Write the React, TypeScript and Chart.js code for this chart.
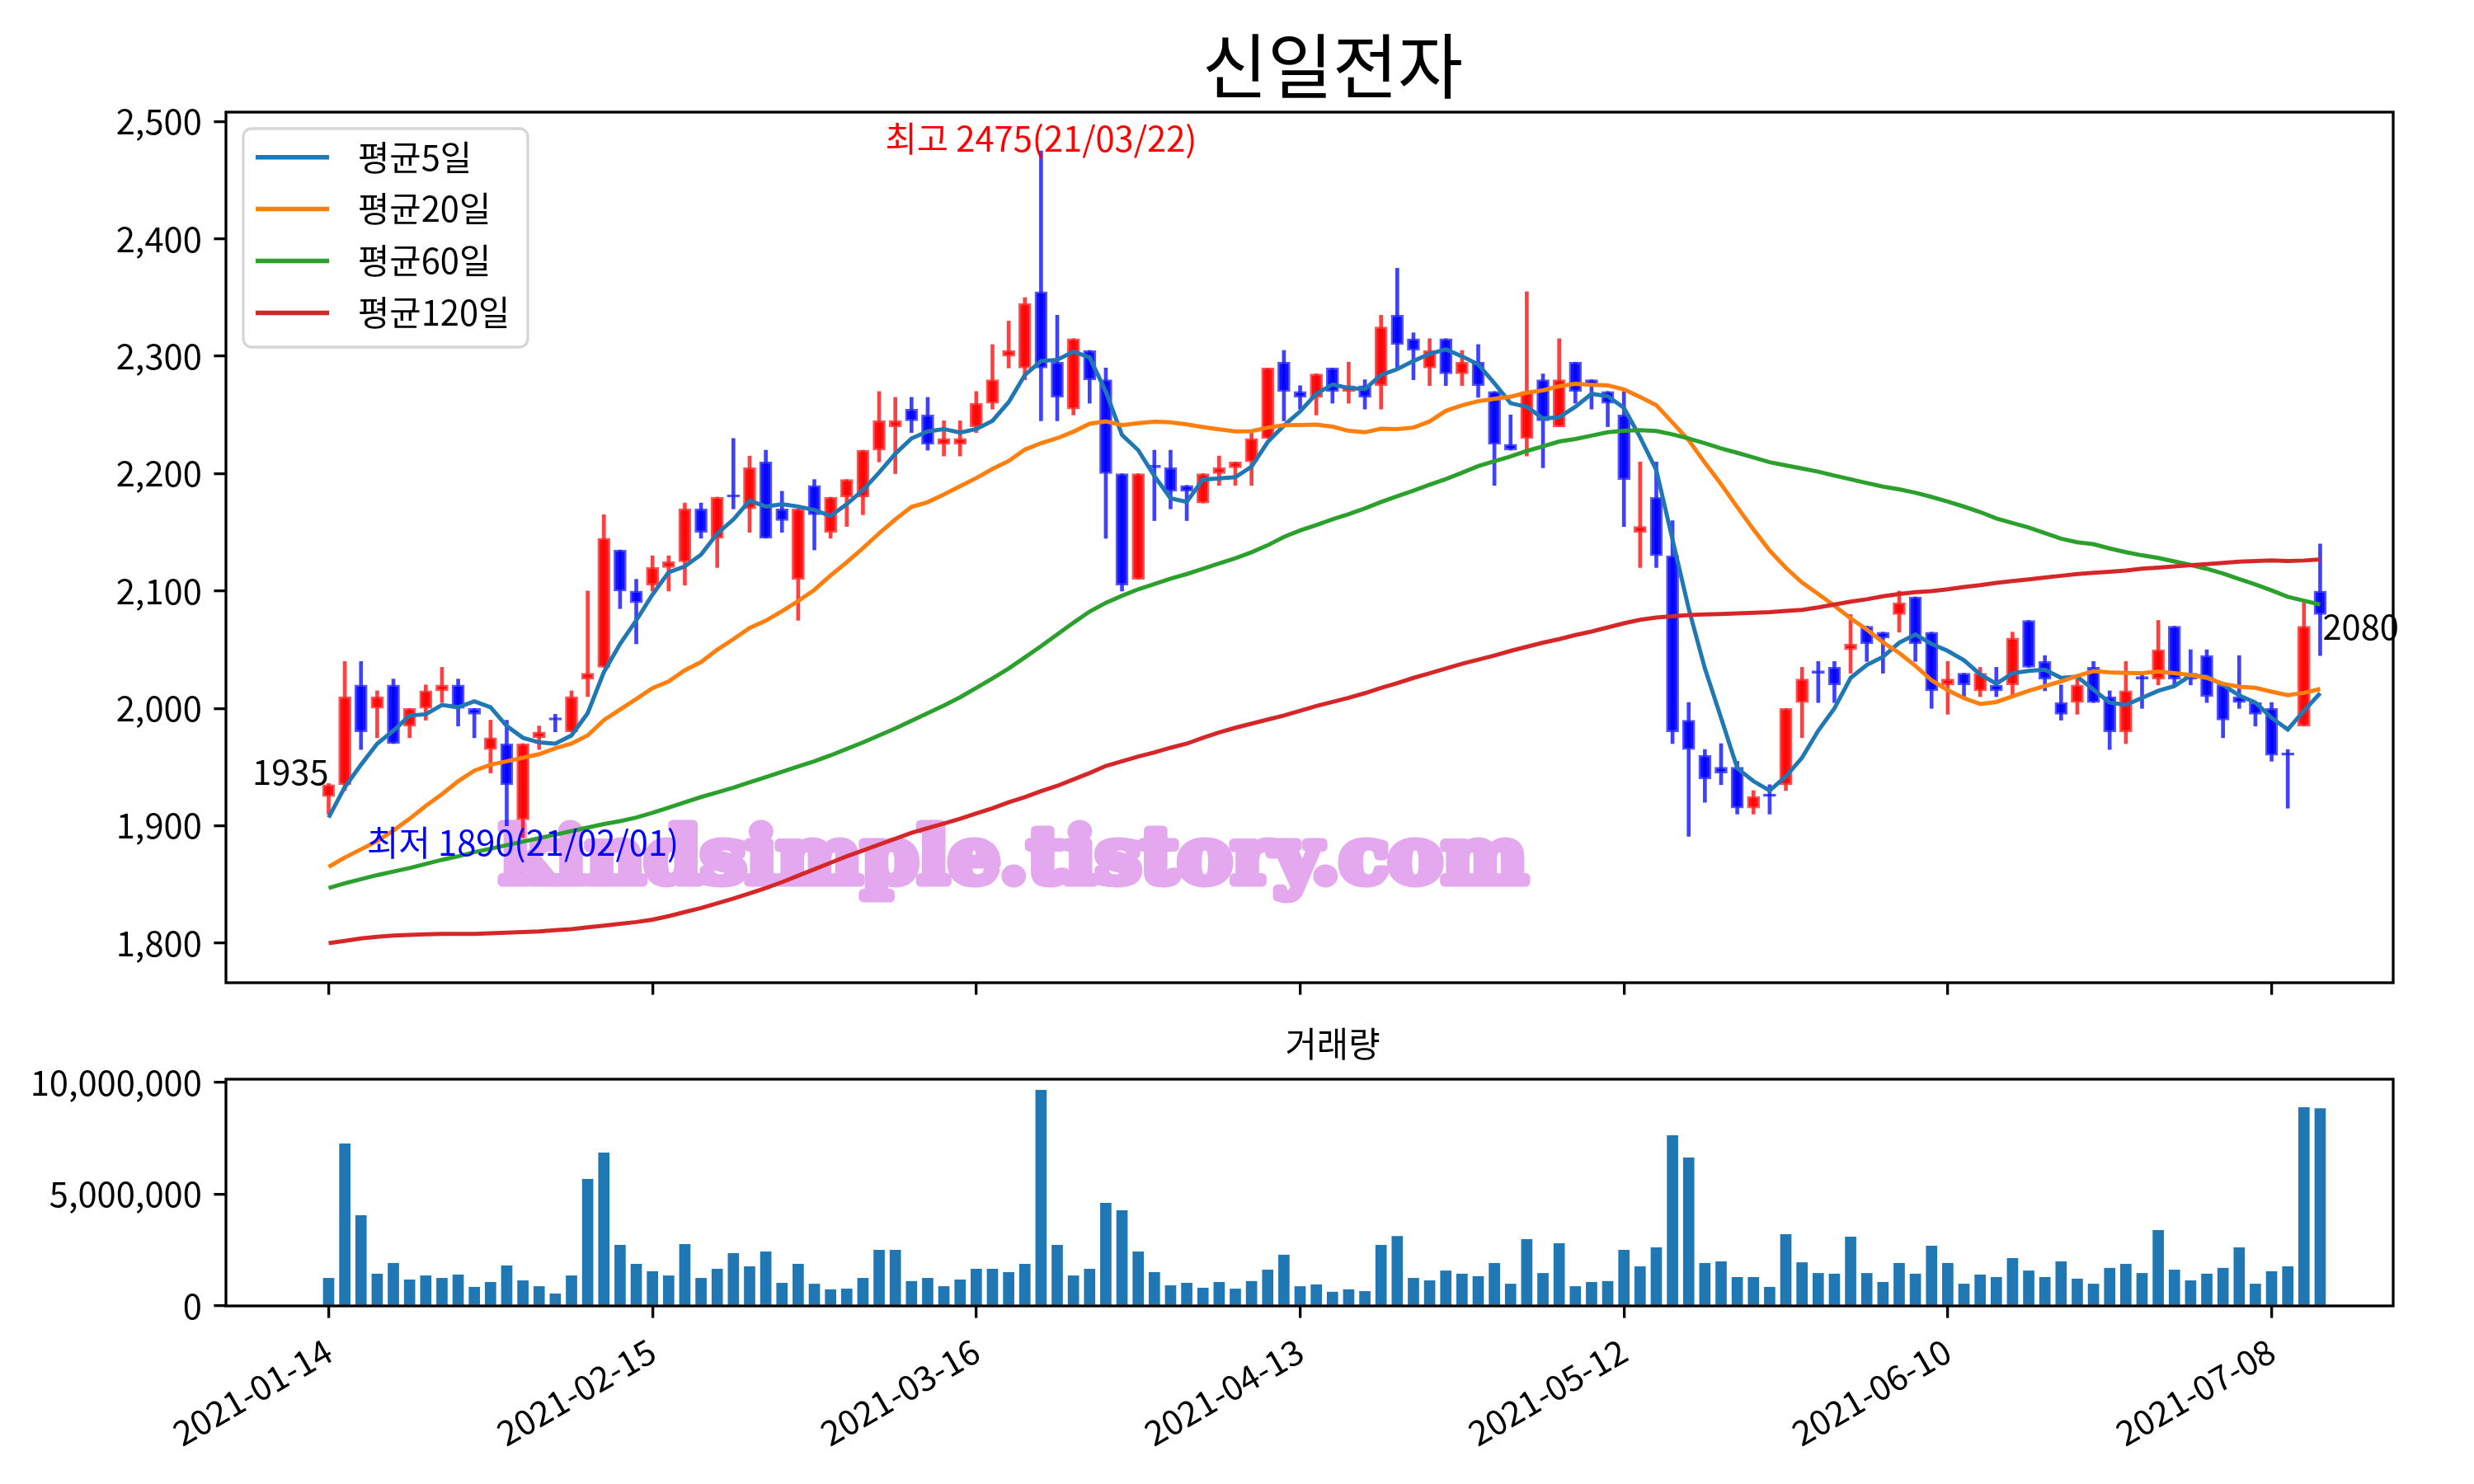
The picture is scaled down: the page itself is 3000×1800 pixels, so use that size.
import React, { useEffect, useRef } from 'react';
import { Chart, registerables } from 'chart.js';
Chart.register(...registerables);

// ---------------- data ----------------
const TITLE = '신일전자';
const VOLUME_TITLE = '거래량';
const WATERMARK = 'kindsimple.tistory.com';
const highLabel = '최고 2475(21/03/22)';
const lowLabel = '최저 1890(21/02/01)';
const legendLabels = ['평균5일', '평균20일', '평균60일', '평균120일'];

const xTickIndex = [0, 20, 40, 60, 80, 100, 120];
const xTickLabels = ['2021-01-14', '2021-02-15', '2021-03-16', '2021-04-13', '2021-05-12', '2021-06-10', '2021-07-08'];
const priceTicks = [1800, 1900, 2000, 2100, 2200, 2300, 2400, 2500];
const volumeTicks = [0, 5000000, 10000000];

const opens = [1925,1935,2020,2000,2020,1985,2000,2015,2020,2000,
 1965,1970,1905,1975,1990,1980,2025,2035,2135,2100,
 2105,2120,2125,2170,2145,2180,2170,2210,2170,2110,
 2190,2150,2180,2180,2220,2240,2255,2250,2225,2225,
 2240,2260,2300,2290,2355,2295,2255,2305,2280,2200,
 2110,2205,2205,2190,2175,2200,2205,2210,2230,2295,
 2270,2265,2290,2270,2275,2275,2335,2315,2290,2315,
 2285,2295,2270,2225,2230,2280,2240,2295,2280,2270,
 2250,2150,2180,2130,1990,1960,1950,1950,1915,1925,
 1935,2005,2030,2035,2050,2070,2065,2080,2095,2065,
 2020,2030,2015,2020,2020,2075,2040,2005,2005,2035,
 2010,1980,2025,2025,2070,2030,2045,2020,2010,2005,
 2000,1960,1985,2100];
const highs = [1936,2040,2040,2015,2025,2000,2020,2035,2025,2000,
 1990,1990,1970,1985,1995,2015,2100,2165,2135,2110,
 2130,2130,2175,2175,2180,2230,2215,2220,2185,2170,
 2195,2180,2195,2220,2270,2265,2265,2265,2245,2245,
 2270,2310,2330,2350,2475,2335,2315,2305,2290,2200,
 2200,2220,2220,2190,2200,2215,2210,2235,2290,2305,
 2275,2285,2290,2295,2280,2335,2375,2320,2315,2315,
 2305,2310,2270,2250,2355,2285,2315,2295,2280,2270,
 2270,2210,2210,2160,2005,1965,1970,1955,1930,1935,
 2000,2035,2040,2040,2080,2070,2065,2100,2095,2065,
 2040,2030,2035,2035,2065,2075,2045,2020,2025,2040,
 2015,2040,2030,2075,2070,2050,2050,2020,2045,2005,
 2005,1965,2090,2140];
const lows = [1910,1930,1965,1975,1970,1975,1990,2005,1985,1975,
 1945,1900,1890,1965,1980,1980,2010,2035,2085,2055,
 2100,2100,2105,2145,2120,2170,2150,2145,2150,2075,
 2135,2145,2155,2165,2210,2200,2235,2220,2215,2215,
 2235,2255,2290,2280,2245,2245,2250,2260,2145,2100,
 2110,2160,2170,2160,2175,2190,2190,2190,2230,2245,
 2255,2250,2260,2260,2255,2255,2290,2280,2275,2275,
 2275,2265,2190,2220,2215,2205,2240,2260,2255,2240,
 2155,2120,2120,1970,1891,1920,1935,1910,1910,1910,
 1930,1975,2005,2005,2030,2040,2030,2065,2040,2000,
 1995,2010,2010,2010,2010,2035,2015,1990,1995,2005,
 1965,1970,2000,2020,2020,2020,2005,1975,2000,1985,
 1955,1915,1985,2045];
const closes = [1935,2010,1980,2010,1970,2000,2015,2020,2000,1995,
 1975,1935,1970,1980,1990,2010,2030,2145,2100,2090,
 2120,2125,2170,2150,2180,2180,2205,2145,2160,2170,
 2165,2180,2195,2220,2245,2245,2245,2225,2230,2230,
 2260,2280,2305,2345,2290,2265,2315,2280,2200,2105,
 2200,2205,2185,2185,2200,2205,2210,2230,2290,2270,
 2265,2285,2270,2275,2265,2325,2310,2305,2305,2285,
 2295,2275,2225,2220,2270,2245,2280,2270,2275,2260,
 2195,2155,2130,1980,1965,1940,1945,1915,1925,1925,
 2000,2025,2030,2020,2055,2055,2060,2090,2055,2015,
 2025,2020,2030,2015,2060,2035,2025,1995,2020,2005,
 1980,2015,2025,2050,2025,2025,2010,1990,2005,1995,
 1960,1960,2070,2080];
const volumes = [1240000,7260000,4050000,1430000,1910000,1170000,1350000,1240000,1390000,840000,
 1060000,1800000,1130000,870000,540000,1350000,5670000,6850000,2720000,1870000,
 1540000,1350000,2760000,1240000,1650000,2350000,1760000,2420000,1020000,1870000,
 980000,730000,760000,1240000,2500000,2500000,1100000,1240000,870000,1170000,
 1650000,1650000,1500000,1870000,9660000,2720000,1350000,1650000,4600000,4270000,
 2420000,1500000,910000,1020000,800000,1060000,760000,1100000,1610000,2280000,
 870000,950000,620000,730000,650000,2720000,3120000,1240000,1130000,1570000,
 1430000,1320000,1910000,980000,2980000,1460000,2790000,870000,1060000,1100000,
 2500000,1760000,2610000,7630000,6630000,1910000,1980000,1280000,1280000,840000,
 3200000,1940000,1460000,1430000,3090000,1460000,1060000,1910000,1430000,2680000,
 1910000,980000,1390000,1280000,2130000,1570000,1280000,1980000,1210000,980000,
 1690000,1870000,1460000,3380000,1610000,1130000,1430000,1690000,2610000,980000,
 1540000,1760000,8880000,8840000];

// moving-average values before enough in-window history exists
const ma5Head = [1907, 1933, 1952, 1970];
const ma20Head = [1865,1873,1880,1887,1896,1906,1917,1927,1938,1947,1952,1955,1958,1961,1966,1970,1977,1990,1999];
const ma60Head = [1847,1851,1854.5,1858,1861,1864,1867.5,1871,1874,1877.5,
 1880.5,1883.5,1886.5,1889.5,1892.5,1895.5,1898.5,1901.5,1904,1907,
 1911,1915.5,1920,1924.5,1928.5,1932.5,1937,1941.5,1946,1950.5,
 1955,1960,1965.5,1971,1977,1983,1989.5,1996,2002.5,2009.5,
 2017.5,2025.5,2034,2043.5,2053,2063,2073,2082.5,2090,2096,
 2101.5,2106,2110.5,2114.5,2119,2123.5,2128,2133,2139];
const ma120 = [1800,1802,1804,1805.5,1806.5,1807,1807.5,1808,1808,1808,
 1808.5,1809,1809.5,1810,1811,1812,1813.5,1815,1816.5,1818,
 1820,1823,1826.5,1830,1834,1838,1842.5,1847,1852,1857.5,
 1863,1868.5,1874,1879,1884,1889,1894,1898,1902,1906,
 1910.5,1915,1920,1924.5,1929.5,1934,1939.5,1945,1951,1955,
 1959,1962.5,1966.5,1970,1975,1979.5,1983.5,1987,1990.5,1994,
 1998,2002,2005.5,2009,2013,2017.5,2021.5,2026,2030,2034,
 2038,2041.5,2045,2049,2052.5,2056,2059,2062.5,2065.5,2069,
 2072.5,2075.5,2077.5,2078.5,2079.5,2080,2080.5,2081,2081.5,2082,
 2083,2084,2086,2088.5,2091,2093,2095.5,2097.5,2099,2100,
 2101.5,2103.5,2105,2107,2108.5,2110,2111.5,2113,2114.5,2115.5,
 2116.5,2117.5,2119,2120,2121,2122,2123,2124,2125,2125.5,
 2126,2125.5,2126,2127];

// ---------------- helpers / styles ----------------
const FONT = '"Noto Sans CJK KR", "Noto Sans", sans-serif';
const FS = 41.67;
const LW = 3.3;
const TICK = 14.6;
const MA_COLORS = ['#1f77b4', '#ff7f0e', '#2ca02c', '#d62728'];

function rollingMean(src: number[], n: number, head: number[]) {
  return src.map((_, i) => {
    if (i < head.length) return head[i];
    let s = 0;
    for (let k = i - n + 1; k <= i; k++) s += src[k];
    return s / n;
  });
}

const idx = closes.map((_, i) => i);
const ma5 = rollingMean(closes, 5, ma5Head);
const ma20 = rollingMean(closes, 20, ma20Head);
const ma60 = rollingMean(closes, 60, ma60Head);
const maSeries = [ma5, ma20, ma60, ma120];
const isUp = closes.map((c, i) => c > opens[i]);

const XMIN = -6.341;
const XMAX = 127.51;

function frame(chart: any) {
  const { ctx, chartArea: a } = chart;
  ctx.save();
  ctx.strokeStyle = '#000';
  ctx.lineWidth = LW;
  ctx.strokeRect(a.left, a.top, a.right - a.left, a.bottom - a.top);
  ctx.restore();
}

function xAxis(showLabels: boolean, height: number) {
  return {
    type: 'linear' as const,
    min: XMIN,
    max: XMAX,
    bounds: 'data' as const,
    offset: false,
    grid: { display: true, drawOnChartArea: false, drawTicks: true, tickLength: TICK, color: '#000', lineWidth: LW, offset: false },
    border: { display: false },
    ticks: {
      display: showLabels,
      autoSkip: false,
      minRotation: 30,
      maxRotation: 30,
      padding: TICK,
      color: '#000',
      font: { family: FONT, size: FS },
      callback: (v: any) => {
        const k = xTickIndex.indexOf(Number(v));
        return k >= 0 ? xTickLabels[k] : '';
      },
    },
    afterBuildTicks: (s: any) => { s.ticks = xTickIndex.map((v) => ({ value: v })); },
    afterFit: (s: any) => { s.height = height; },
  };
}

function yAxis(min: number, max: number, ticks: number[]) {
  return {
    type: 'linear' as const,
    min,
    max,
    bounds: 'data' as const,
    beginAtZero: false,
    grid: { display: true, drawOnChartArea: false, drawTicks: true, tickLength: TICK, color: '#000', lineWidth: LW },
    border: { display: false },
    ticks: {
      padding: TICK,
      color: '#000',
      font: { family: FONT, size: FS },
      callback: (v: any) => Number(v).toLocaleString('en-US'),
    },
    afterBuildTicks: (s: any) => { s.ticks = ticks.map((v) => ({ value: v })); },
    afterFit: (s: any) => { s.width = 274; },
  };
}

const pricePlugin = {
  id: 'priceDecor',
  beforeDatasetsDraw: (chart: any) => {
    const { ctx } = chart;
    ctx.save();
    ctx.font = `bold 92px "DejaVu Serif", serif`;
    const w = ctx.measureText(WATERMARK).width;
    const sx = 1246 / w;
    ctx.translate(1229, 1070);
    ctx.scale(sx, 1);
    ctx.textAlign = 'center';
    ctx.textBaseline = 'alphabetic';
    ctx.fillStyle = '#E4A8EE';
    ctx.strokeStyle = '#E4A8EE';
    ctx.lineWidth = 11;
    ctx.lineJoin = 'round';
    ctx.strokeText(WATERMARK, 0, 0);
    ctx.fillText(WATERMARK, 0, 0);
    ctx.restore();
  },
  afterDatasetsDraw: (chart: any) => {
    const { ctx, scales } = chart;
    const xs = scales.x, ys = scales.y;
    ctx.save();
    ctx.font = `${FS}px ${FONT}`;
    ctx.textBaseline = 'alphabetic';
    let iMax = 0, iMin = 0;
    highs.forEach((h, i) => { if (h > highs[iMax]) iMax = i; });
    lows.forEach((l, i) => { if (l < lows[iMin]) iMin = i; });
    ctx.textAlign = 'center';
    ctx.fillStyle = '#ff0000';
    ctx.fillText(highLabel, xs.getPixelForValue(iMax), ys.getPixelForValue(highs[iMax]) + 1);
    ctx.fillStyle = '#0000ff';
    ctx.fillText(lowLabel, xs.getPixelForValue(iMin), ys.getPixelForValue(lows[iMin]) + 22);
    ctx.fillStyle = '#000';
    ctx.textAlign = 'right';
    ctx.fillText(String(closes[0]), xs.getPixelForValue(0), ys.getPixelForValue(closes[0]));
    ctx.textAlign = 'left';
    const last = closes.length - 1;
    ctx.fillText(String(closes[last]), xs.getPixelForValue(last) + 3, ys.getPixelForValue(closes[last]) + 31);
    ctx.restore();
  },
  afterDraw: (chart: any) => {
    const { ctx } = chart;
    frame(chart);
    ctx.save();
    const bx = 295, by = 156, bw = 345, bh = 265, r = 10;
    ctx.beginPath();
    ctx.moveTo(bx + r, by);
    ctx.arcTo(bx + bw, by, bx + bw, by + bh, r);
    ctx.arcTo(bx + bw, by + bh, bx, by + bh, r);
    ctx.arcTo(bx, by + bh, bx, by, r);
    ctx.arcTo(bx, by, bx + bw, by, r);
    ctx.closePath();
    ctx.fillStyle = 'rgba(255,255,255,0.8)';
    ctx.fill();
    ctx.strokeStyle = '#d6d6d6';
    ctx.lineWidth = LW;
    ctx.stroke();
    ctx.font = `${FS}px ${FONT}`;
    ctx.textBaseline = 'middle';
    ctx.textAlign = 'left';
    legendLabels.forEach((lab, k) => {
      const y = 190.7 + k * 62.9;
      ctx.strokeStyle = MA_COLORS[k];
      ctx.lineWidth = 5.5;
      ctx.beginPath();
      ctx.moveTo(310, y);
      ctx.lineTo(399, y);
      ctx.stroke();
      ctx.fillStyle = '#000';
      ctx.fillText(lab, 434, y);
    });
    ctx.font = `86px ${FONT}`;
    ctx.textAlign = 'center';
    ctx.textBaseline = 'middle';
    ctx.fillStyle = '#000';
    ctx.fillText(TITLE, 1616, 80);
    ctx.restore();
  },
};

const volumePlugin = {
  id: 'volDecor',
  afterDraw: (chart: any) => {
    const { ctx } = chart;
    frame(chart);
    ctx.save();
    ctx.font = `${FS}px ${FONT}`;
    ctx.textAlign = 'center';
    ctx.textBaseline = 'middle';
    ctx.fillStyle = '#000';
    ctx.fillText(VOLUME_TITLE, 1616, 26);
    ctx.restore();
  },
};

export default function App() {
  const priceRef = useRef<HTMLCanvasElement>(null);
  const volRef = useRef<HTMLCanvasElement>(null);

  useEffect(() => {
    Chart.defaults.font.family = FONT;
    Chart.defaults.font.size = FS;
    Chart.defaults.color = '#000';

    const lineSets = maSeries.map((s, k) => ({
      type: 'line' as const,
      label: legendLabels[k],
      data: idx.map((i) => ({ x: i, y: s[i] })),
      borderColor: MA_COLORS[k],
      backgroundColor: MA_COLORS[k],
      borderWidth: 5,
      pointRadius: 0,
      tension: 0,
      fill: false,
      order: 4 - k,
    }));

    const priceChart = new Chart(priceRef.current as HTMLCanvasElement, {
      type: 'bar',
      data: {
        datasets: [
          ...lineSets,
          {
            type: 'bar' as const,
            label: 'wick',
            data: idx.map((i) => ({ x: i, y: [lows[i], highs[i]] })) as any,
            backgroundColor: isUp.map((u) => (u ? 'rgba(255,0,0,0.75)' : 'rgba(0,0,255,0.75)')),
            borderWidth: 0,
            barThickness: 4,
            grouped: false,
            order: 20,
          },
          {
            type: 'bar' as const,
            label: 'body',
            data: idx.map((i) => ({ x: i, y: [opens[i], closes[i]] })) as any,
            backgroundColor: isUp.map((u) => (u ? 'rgba(255,0,0,0.92)' : 'rgba(0,0,255,0.92)')),
            borderColor: isUp.map((u) => (u ? 'rgba(255,40,40,0.8)' : 'rgba(40,40,255,0.8)')),
            borderWidth: 2.5,
            borderSkipped: false,
            barThickness: 15,
            minBarLength: 3,
            grouped: false,
            order: 10,
          },
        ] as any,
      },
      options: {
        responsive: false,
        animation: false,
        devicePixelRatio: 1,
        events: [],
        layout: { padding: { left: 0, top: 136, right: 98, bottom: 28 } },
        plugins: { legend: { display: false }, tooltip: { enabled: false }, title: { display: false } },
        scales: {
          x: xAxis(false, 20),
          y: yAxis(1766.3, 2508, priceTicks),
        } as any,
      },
      plugins: [pricePlugin],
    });

    const volChart = new Chart(volRef.current as HTMLCanvasElement, {
      type: 'bar',
      data: {
        datasets: [
          {
            label: 'volume',
            data: idx.map((i) => ({ x: i, y: volumes[i] })) as any,
            backgroundColor: '#1f77b4',
            borderWidth: 0,
            barThickness: 13,
            grouped: false,
          },
        ] as any,
      },
      options: {
        responsive: false,
        animation: false,
        devicePixelRatio: 1,
        events: [],
        layout: { padding: { left: 0, top: 69, right: 98, bottom: 0 } },
        plugins: { legend: { display: false }, tooltip: { enabled: false }, title: { display: false } },
        scales: {
          x: xAxis(true, 216),
          y: yAxis(0, 10150000, volumeTicks),
        } as any,
      },
      plugins: [volumePlugin],
    });

    return () => {
      priceChart.destroy();
      volChart.destroy();
    };
  }, []);

  return (
    <div style={{ position: 'fixed', left: 0, top: 0, width: 3000, height: 1800, background: '#fff' }}>
      <canvas ref={priceRef} width={3000} height={1240} style={{ position: 'absolute', left: 0, top: 0, width: 3000, height: 1240 }} />
      <canvas ref={volRef} width={3000} height={560} style={{ position: 'absolute', left: 0, top: 1240, width: 3000, height: 560 }} />
    </div>
  );
}
